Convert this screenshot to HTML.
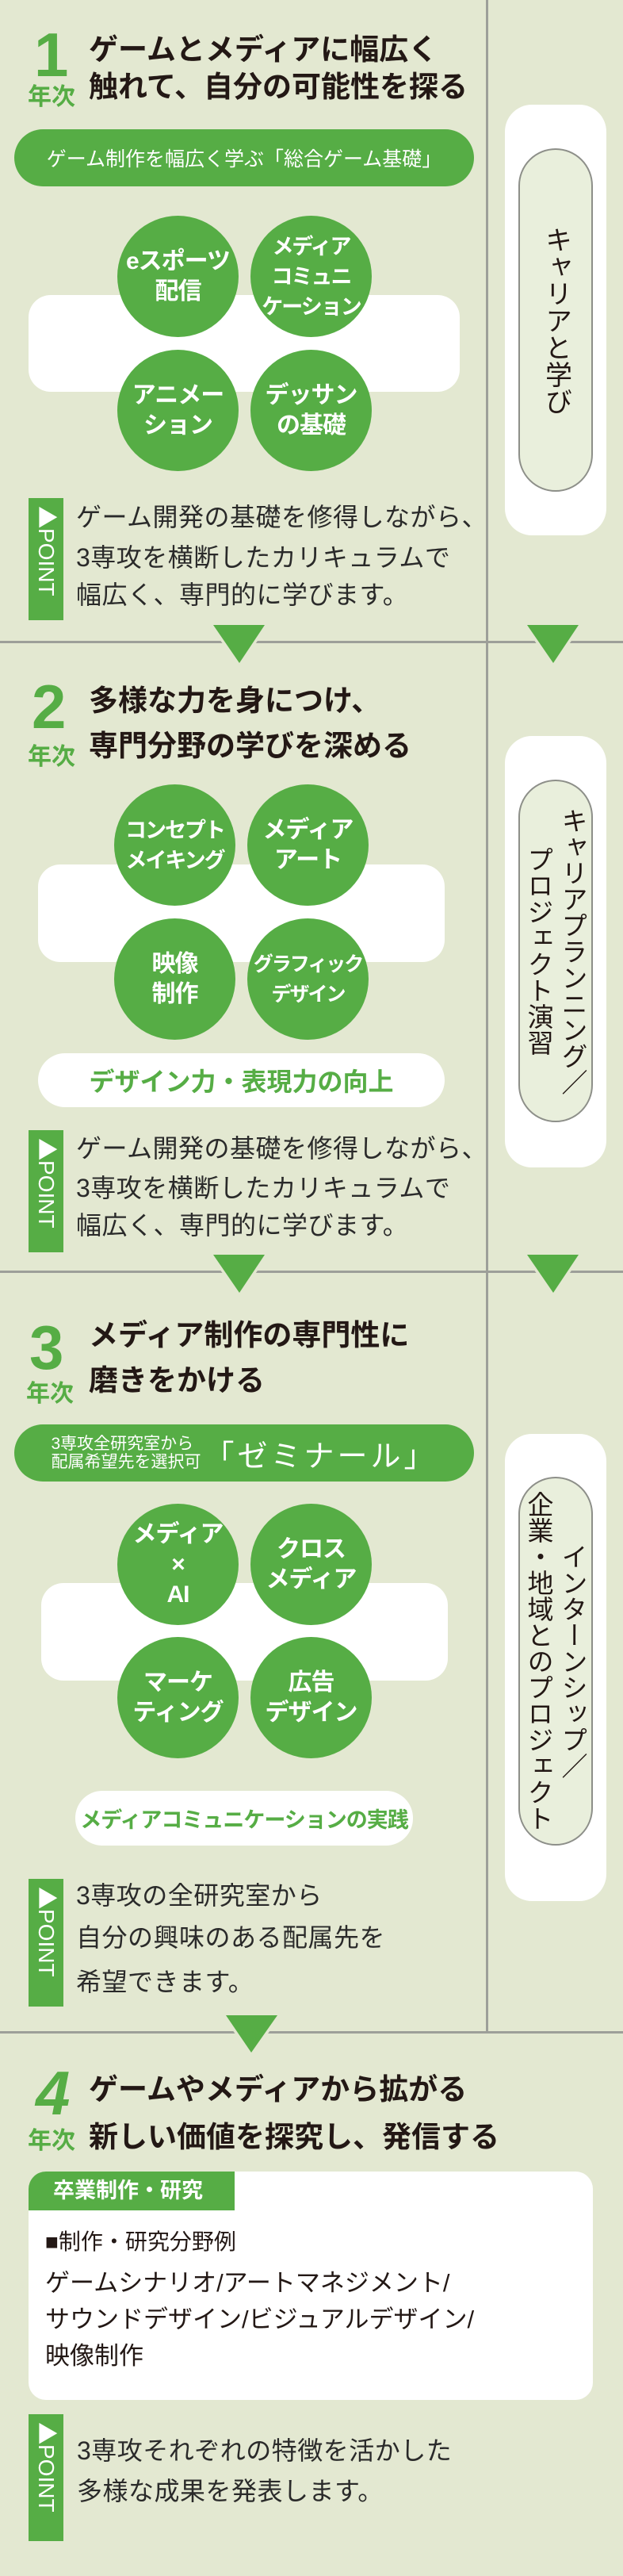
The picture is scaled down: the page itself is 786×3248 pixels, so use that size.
<!DOCTYPE html>
<html><head><meta charset="utf-8">
<style>
*{margin:0;padding:0;box-sizing:border-box}
body{width:786px;height:3248px;background:#e3e8d1;position:relative;overflow:hidden;font-family:"Liberation Sans","Noto Sans CJK JP",sans-serif;color:#231815}
.a{position:absolute}
.hl{position:absolute;height:3px;background:#9d9f99}
.vl{position:absolute;width:3px;background:#9d9f99;left:613px;top:0;height:2564px}
.num{position:absolute;color:#56ad45;font-weight:700;font-size:78px;line-height:1}
.nen{position:absolute;color:#56ad45;font-weight:700;font-size:30px;line-height:1;white-space:nowrap}
.tt{position:absolute;left:112px;font-weight:700;font-size:37px;line-height:48px;white-space:nowrap}
.pill{position:absolute;background:#56ad45;color:#fff;border-radius:36px;display:flex;align-items:center;justify-content:center;white-space:nowrap}
.wr{position:absolute;background:#fff;border-radius:28px}
.c{position:absolute;width:153px;height:153px;border-radius:50%;background:#56ad45;color:#fff;font-weight:700;font-size:30px;line-height:38px;display:flex;align-items:center;justify-content:center;text-align:center;white-space:nowrap;letter-spacing:-1px}
.c.s{font-size:27px;letter-spacing:-2px}
.rc{position:absolute;left:637px;width:128px;background:#fff;border-radius:34px}
.ip{position:absolute;left:654px;width:94px;background:#e9efdc;border:2px solid #8d8f89;border-radius:47px;display:flex;align-items:center;justify-content:center}
.vt{writing-mode:vertical-rl;font-size:33px;line-height:43px;text-align:center;white-space:nowrap}
.pt{position:absolute;left:36px;width:44px;background:#56ad45;color:#fff;display:flex;justify-content:center;padding-top:10px}
.pt span{writing-mode:vertical-rl;font-size:28px;line-height:44px;white-space:nowrap}
.bt{position:absolute;left:96px;font-size:32px;letter-spacing:0.5px;white-space:nowrap;color:#2a2a2a;line-height:50px}
.wp{position:absolute;background:#fff;border-radius:34px;display:flex;align-items:center;justify-content:center;color:#56ad45;font-weight:700;white-space:nowrap}
</style></head><body>

<div class="vl"></div>

<!-- Section 1 -->
<div class="num" style="left:43px;top:30px">1</div>
<div class="nen" style="left:35px;top:108px">年次</div>
<div class="tt" style="top:39px">ゲームとメディアに幅広く</div>
<div class="tt" style="top:86px">触れて、自分の可能性を探る</div>
<div class="pill" style="left:18px;top:163px;width:580px;height:72px;font-size:25px">ゲーム制作を幅広く学ぶ「総合ゲーム基礎」</div>
<div class="wr" style="left:36px;top:372px;width:544px;height:122px"></div>
<div class="c" style="left:148px;top:272px">eスポーツ<br>配信</div>
<div class="c s" style="left:316px;top:272px">メディア<br>コミュニ<br>ケーション</div>
<div class="c" style="left:148px;top:441px">アニメー<br>ション</div>
<div class="c" style="left:316px;top:441px">デッサン<br>の基礎</div>
<div class="rc" style="top:132px;height:543px"></div>
<div class="ip" style="top:187px;height:433px"><div class="vt" style="font-size:34px">キャリアと学び</div></div>
<div class="pt" style="top:628px;height:154px"><span>▶POINT</span></div>
<div class="bt" style="top:627px">ゲーム開発の基礎を修得しながら、</div>
<div class="bt" style="top:678px">3専攻を横断したカリキュラムで</div>
<div class="bt" style="top:725px">幅広く、専門的に学びます。</div>
<div class="hl" style="left:0;top:808px;width:786px"></div>
<svg class="a" style="left:0;top:780px" width="786" height="64"><polygon points="269,8 334,8 302,56" fill="#56ad45" stroke="#e3e8d1" stroke-width="7" paint-order="stroke"/><polygon points="665,8 730,8 698,56" fill="#56ad45" stroke="#e3e8d1" stroke-width="7" paint-order="stroke"/></svg>

<!-- Section 2 -->
<div class="num" style="left:40px;top:852px">2</div>
<div class="nen" style="left:35px;top:940px">年次</div>
<div class="tt" style="top:860px">多様な力を身につけ、</div>
<div class="tt" style="top:917px">専門分野の学びを深める</div>
<div class="wr" style="left:48px;top:1090px;width:513px;height:123px"></div>
<div class="c s" style="left:144px;top:989px">コンセプト<br>メイキング</div>
<div class="c" style="left:312px;top:989px">メディア<br>アート</div>
<div class="c" style="left:144px;top:1158px">映像<br>制作</div>
<div class="c s" style="left:312px;top:1158px;font-size:25px">グラフィック<br>デザイン</div>
<div class="wp" style="left:48px;top:1328px;width:513px;height:68px;font-size:32px">デザイン力・表現力の向上</div>
<div class="rc" style="top:928px;height:544px"></div>
<div class="ip" style="top:983px;height:432px"><div class="vt">キャリアプランニング／<br>プロジェクト演習</div></div>
<div class="pt" style="top:1425px;height:154px"><span>▶POINT</span></div>
<div class="bt" style="top:1423px">ゲーム開発の基礎を修得しながら、</div>
<div class="bt" style="top:1473px">3専攻を横断したカリキュラムで</div>
<div class="bt" style="top:1520px">幅広く、専門的に学びます。</div>
<div class="hl" style="left:0;top:1602px;width:786px"></div>
<svg class="a" style="left:0;top:1574px" width="786" height="64"><polygon points="269,8 334,8 302,56" fill="#56ad45" stroke="#e3e8d1" stroke-width="7" paint-order="stroke"/><polygon points="665,8 730,8 698,56" fill="#56ad45" stroke="#e3e8d1" stroke-width="7" paint-order="stroke"/></svg>

<!-- Section 3 -->
<div class="num" style="left:37px;top:1660px">3</div>
<div class="nen" style="left:33px;top:1743px">年次</div>
<div class="tt" style="top:1660px">メディア制作の専門性に</div>
<div class="tt" style="top:1717px">磨きをかける</div>
<div class="pill" style="left:18px;top:1796px;width:580px;height:72px">
  <div style="font-size:21px;line-height:23px;text-align:left;margin-right:4px">3専攻全研究室から<br>配属希望先を選択可</div>
  <div style="font-size:38px;letter-spacing:4px">「ゼミナール」</div>
</div>
<div class="wr" style="left:52px;top:1996px;width:513px;height:123px"></div>
<div class="c" style="left:148px;top:1896px">メディア<br>×<br>AI</div>
<div class="c" style="left:316px;top:1896px">クロス<br>メディア</div>
<div class="c" style="left:148px;top:2064px">マーケ<br>ティング</div>
<div class="c" style="left:316px;top:2064px">広告<br>デザイン</div>
<div class="wp" style="left:95px;top:2258px;width:426px;height:69px;font-size:27px;letter-spacing:-1px">メディアコミュニケーションの実践</div>
<div class="rc" style="top:1808px;height:589px"></div>
<div class="ip" style="top:1862px;height:465px"><div class="vt">インターンシップ／<br>企業・地域とのプロジェクト</div></div>
<div class="pt" style="top:2369px;height:161px"><span>▶POINT</span></div>
<div class="bt" style="top:2365px">3専攻の全研究室から</div>
<div class="bt" style="top:2418px">自分の興味のある配属先を</div>
<div class="bt" style="top:2474px">希望できます。</div>
<div class="hl" style="left:0;top:2561px;width:786px"></div>
<svg class="a" style="left:0;top:2533px" width="786" height="64"><polygon points="285,8 350,8 317,55" fill="#56ad45" stroke="#e3e8d1" stroke-width="7" paint-order="stroke"/></svg>

<!-- Section 4 -->
<div class="num" style="left:45px;top:2600px;font-style:italic">4</div>
<div class="nen" style="left:35px;top:2685px">年次</div>
<div class="tt" style="top:2611px">ゲームやメディアから拡がる</div>
<div class="tt" style="top:2671px">新しい価値を探究し、発信する</div>
<div class="a" style="left:36px;top:2738px;width:712px;height:288px;background:#fff;border-radius:22px;overflow:hidden">
  <div class="a" style="left:0;top:0;width:260px;height:49px;background:#56ad45;color:#fff;font-weight:700;font-size:27px;line-height:49px;padding-left:31px;white-space:nowrap">卒業制作・研究</div>
  <div class="a" style="left:21px;top:72px;font-size:28px;line-height:34px;white-space:nowrap">■制作・研究分野例</div>
  <div class="a" style="left:21px;top:118px;font-size:31px;line-height:46px;white-space:nowrap">ゲームシナリオ/アートマネジメント/<br>サウンドデザイン/ビジュアルデザイン/<br>映像制作</div>
</div>
<div class="pt" style="top:3044px;height:160px"><span>▶POINT</span></div>
<div class="bt" style="top:3065px;left:97px">3専攻それぞれの特徴を活かした</div>
<div class="bt" style="top:3116px;left:97px">多様な成果を発表します。</div>

</body></html>
